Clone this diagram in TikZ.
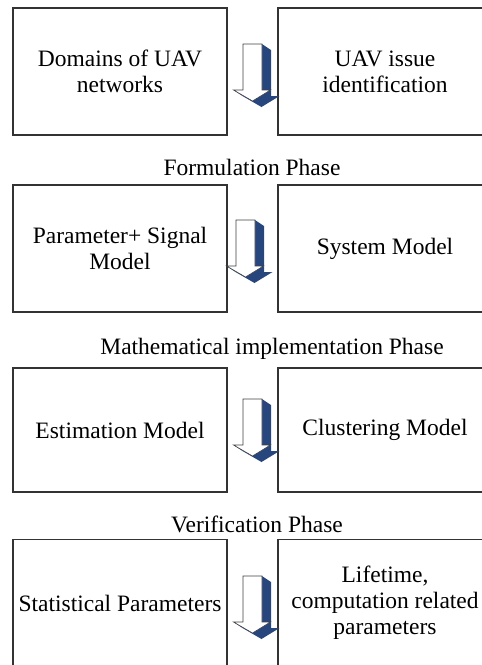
\documentclass[tikz,border=0pt]{standalone}
\usepackage{fontspec}
\setmainfont{Liberation Serif}
\usetikzlibrary{positioning}

\definecolor{arrowblue}{RGB}{40,70,126}

\begin{document}
\begin{tikzpicture}[
        x=1pt, y=-1pt,
        txt/.style={font=\fontsize{23.5}{26}\selectfont},
        stagebox/.style={txt, rectangle, draw=black!80, line width=1.1pt, minimum width=214pt, minimum height=127pt, align=center, inner sep=0pt},
        phase/.style={txt, anchor=base, inner sep=0pt},
        % block arrow with a dark extruded side
        pics/downarrow/.style={code={
            \fill[arrowblue] (-9.5,0) -- (9.5,0) -- (18.5,6) -- (18.5,52) -- (27,52) -- (9,63) -- (-10,52) -- (-19,46) -- (-9.5,46) -- cycle;
            \draw[black!75, line width=0.6pt, fill=white] (-9.5,0) -- (9.5,0) -- (9.5,46) -- (18,46) -- (0,57) -- (-19,46) -- (-9.5,46) -- cycle;
        }}
    ]
    \useasboundingbox (0,0) rectangle (482,665);
    \clip (0,0) rectangle (482,665);

    % first row
    \node[stagebox] (dom) at (120,71.5) {Domains of UAV\\networks};
    \node[stagebox] (iss) at (385,71.5) {UAV issue\\identification};
    \pic at (252.5,44) {downarrow};

    \node[phase] (form) at (252,175) {Formulation Phase};

    % second row
    \node[stagebox] (par) at (120,248.5) {Parameter+ Signal\\Model};
    \node[stagebox] (sys) at (385,248.5) {System Model};
    \pic at (245.5,220) {downarrow};

    \node[phase] (math) at (272,354) {Mathematical implementation Phase};

    % third row
    \node[stagebox, minimum height=124pt] (est) at (120,430) {Estimation Model};
    \node[stagebox, minimum height=124pt] (clu) at (385,430) {Clustering Model};
    \pic at (252.5,399) {downarrow};

    \node[phase] (ver) at (257,532) {Verification Phase};

    % last row
    \node[stagebox] (stat) at (120,603) {Statistical Parameters};
    \node[stagebox] (life) at (385,603) {Lifetime,\\computation related\\parameters};
    \pic at (252.5,576) {downarrow};
\end{tikzpicture}
\end{document}
